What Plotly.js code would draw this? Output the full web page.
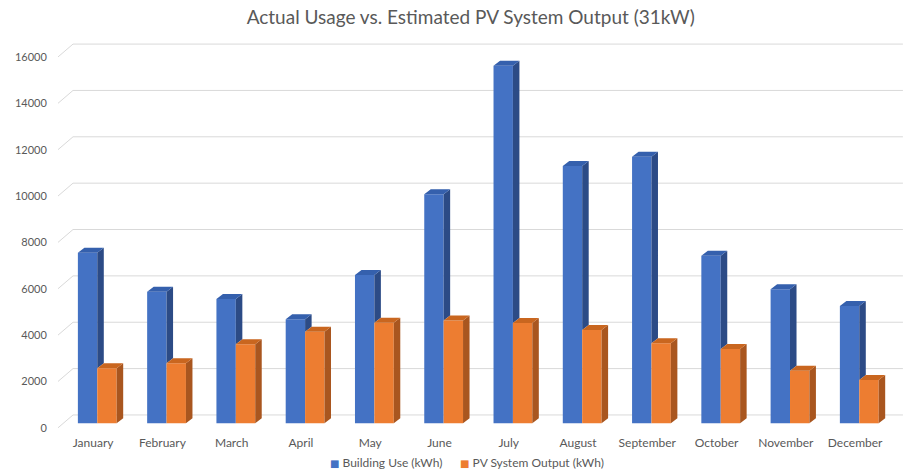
<!DOCTYPE html>
<html>
<head>
<meta charset="utf-8">
<script src="https://cdn.plot.ly/plotly-3.0.1.min.js"></script>
<style>html,body{margin:0;padding:0;background:#fff;}#chart{width:907px;height:472px;}</style>
</head>
<body>
<div id="chart"></div>
<script>
const months = ["January","February","March","April","May","June","July","August","September","October","November","December"];
const buildingUse = [7360, 5680, 5360, 4490, 6400, 9880, 15430, 11100, 11500, 7230, 5780, 5060];
const pvOutput = [2370, 2590, 3410, 3950, 4340, 4430, 4330, 4030, 3450, 3210, 2270, 1870];
const yTicks = [0, 2000, 4000, 6000, 8000, 10000, 12000, 14000, 16000];
const seriesNames = ["Building Use (kWh)", "PV System Output (kWh)"];

const FONT = "'Century Gothic', Lato, 'DejaVu Sans', sans-serif";
const GREY = "#595959";
const BLUE = "#4472C4", ORANGE = "#ED7D31";
const W = 0.28;      // front face width (category units)
const DX = 0.094;    // depth offset x
const DY = 216;      // depth offset y (value units)
const FRONT_OFF = -195; // front edge of floor, for labels
const WALL_OFF = 360;   // back wall offset
const X0 = -0.567, X1 = 11.66;

const idx = months.map((_, i) => i);

function polys(fn) {
  const xs = [], ys = [];
  idx.forEach(i => {
    const p = fn(i);
    p.forEach(pt => { xs.push(pt[0]); ys.push(pt[1]); });
    xs.push(null); ys.push(null);
  });
  return {xs, ys};
}
function face(p, color) {
  return {type: "scatter", mode: "lines", x: p.xs, y: p.ys, fill: "toself",
    fillcolor: color, line: {width: 0, color: color}, hoverinfo: "skip", showlegend: false};
}

const blueTop = polys(i => [[i - W, buildingUse[i]], [i, buildingUse[i]], [i + DX, buildingUse[i] + DY], [i - W + DX, buildingUse[i] + DY]]);
const blueSide = polys(i => [[i, pvOutput[i]], [i, buildingUse[i]], [i + DX, buildingUse[i] + DY], [i + DX, pvOutput[i] + DY]]);
const orTop = polys(i => [[i, pvOutput[i]], [i + W, pvOutput[i]], [i + W + DX, pvOutput[i] + DY], [i + DX, pvOutput[i] + DY]]);
const orSide = polys(i => [[i + W, 0], [i + W, pvOutput[i]], [i + W + DX, pvOutput[i] + DY], [i + W + DX, DY]]);

const traces = [
  {type: "bar", name: seriesNames[0], x: idx, y: buildingUse, width: W, offset: -W, marker: {color: BLUE}, showlegend: false, hoverinfo: "y"},
  {type: "bar", name: seriesNames[1], x: idx, y: pvOutput, width: W, offset: 0, marker: {color: ORANGE}, showlegend: false, hoverinfo: "y"},
  face(blueSide, "#2c4b86"),
  face(blueTop, "#3560ad"),
  face(orSide, "#a9561f"),
  face(orTop, "#c9661f")
];

const xd = X0 + 15 / 69.27;
const shapes = yTicks.map(t => ({
  type: "path", xref: "x", yref: "y", layer: "below",
  path: `M ${X0},${t + FRONT_OFF} L ${xd},${t + WALL_OFF} L ${X1 - 0.03},${t + WALL_OFF}`,
  line: {color: "#d9d9d9", width: 1}
}));

const legendAnn = [
  {name: seriesNames[0], color: BLUE, x: 0.3188},
  {name: seriesNames[1], color: ORANGE, x: 0.4723}
].map(it => ({
  xref: "paper", yref: "paper", x: it.x, y: -0.0846, xanchor: "left", yanchor: "middle", showarrow: false,
  text: `<span style="color:${it.color};font-family:'DejaVu Sans';font-size:10px">■</span> ${it.name}`,
  font: {family: FONT, size: 12, color: GREY}
}));

const layout = {
  width: 907, height: 472,
  margin: {l: 58, r: 2, t: 40, b: 42, autoexpand: false},
  paper_bgcolor: "#ffffff", plot_bgcolor: "#ffffff",
  font: {family: FONT, color: GREY, size: 12},
  title: {text: "Actual Usage vs. Estimated PV System Output (31kW)", font: {family: FONT, size: 19, color: GREY},
    x: 0.519, xanchor: "center", y: 0.964, yref: "container", yanchor: "middle"},
  barmode: "overlay",
  xaxis: {range: [X0, X1], tickmode: "array", tickvals: idx.map(i => i - 0.06), ticktext: months,
    showgrid: false, zeroline: false, showline: false, ticks: "outside", ticklen: 2, tickcolor: "rgba(0,0,0,0)",
    tickfont: {family: FONT, size: 12, color: GREY}, fixedrange: true, automargin: false},
  yaxis: {range: [-289, 16536], tickmode: "array", tickvals: yTicks.map(t => t + FRONT_OFF), ticktext: yTicks.map(String),
    showgrid: false, zeroline: false, showline: false, ticks: "outside", ticklen: 8, tickcolor: "rgba(0,0,0,0)",
    tickfont: {family: FONT, size: 11, color: GREY}, fixedrange: true, automargin: false},
  shapes: shapes,
  annotations: legendAnn,
  showlegend: false
};

Plotly.newPlot("chart", traces, layout, {displayModeBar: false, staticPlot: true});
</script>
</body>
</html>
